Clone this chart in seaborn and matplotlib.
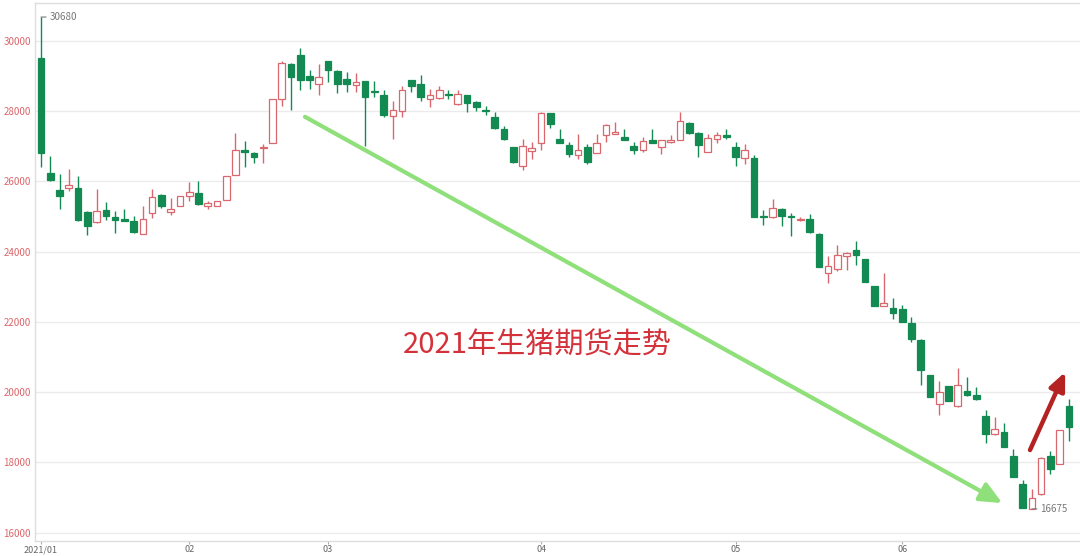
import pandas as pd
import matplotlib
matplotlib.use("Agg")
import matplotlib.pyplot as plt
import seaborn as sns

# Daily OHLC of the live hog futures contract, Jan 8 - Jun 28 2021
opens = [29510, 26240, 25760, 25810, 25810, 25140, 24830, 25190, 24980, 24930,
         24860, 24510, 25100, 25620, 25140, 25310, 25570, 25670, 25290, 25310,
         25480, 26190, 26900, 26820, 26950, 27090, 28350, 29350, 29590, 28990,
         28780, 29430, 29140, 28920, 28740, 28860, 28560, 28470, 27860, 28000,
         28880, 28760, 28350, 28370, 28480, 28190, 28450, 28270, 28030, 27830,
         27500, 26970, 26450, 26860, 27090, 27940, 27220, 27050, 26740, 26980,
         26810, 27310, 27360, 27270, 27000, 26900, 27170, 26980, 27120, 27190,
         27670, 27390, 26840, 27220, 27310, 26980, 26670, 26670, 25000, 24980,
         25200, 25000, 24900, 24920, 24510, 23400, 23510, 23870, 24060, 23780,
         23020, 22460, 22400, 22360, 21980, 21490, 20490, 19660, 20170, 19600,
         20030, 19930, 19310, 18800, 18870, 18170, 17390, 16680, 17090, 18170,
         17960, 19600]
highs = [30680, 26730, 26220, 26350, 26160, 25160, 25780, 25400, 25170, 25210,
         25020, 25300, 25780, 25640, 25520, 25590, 25970, 26000, 25430, 25450,
         26150, 27370, 27160, 26830, 27070, 28360, 29430, 29360, 29810, 29180,
         29330, 29440, 29180, 29110, 29090, 28870, 28860, 28590, 28290, 28730,
         28890, 29020, 28640, 28730, 28610, 28610, 28460, 28280, 28160, 27970,
         27590, 26980, 27210, 27110, 27970, 27950, 27500, 27120, 27340, 27060,
         27340, 27630, 27700, 27500, 27120, 27270, 27480, 27180, 27310, 27980,
         27700, 27400, 27340, 27410, 27480, 27120, 27060, 26750, 25180, 25510,
         25230, 25090, 25000, 25070, 24520, 23870, 24200, 23980, 24290, 23790,
         23030, 23400, 22690, 22490, 22150, 21500, 20500, 20320, 20180, 20680,
         20440, 20150, 19490, 19280, 19120, 18390, 17490, 17250, 18150, 18320,
         18920, 19790]
lows = [26420, 26000, 25210, 25740, 24880, 24480, 24820, 24900, 24520, 24860,
        24540, 24500, 24950, 25240, 25050, 25290, 25430, 25330, 25210, 25290,
        25470, 26180, 26400, 26520, 26510, 27080, 28160, 28040, 28610, 28640,
        28450, 28830, 28510, 28540, 28540, 27020, 28400, 27830, 27210, 27830,
        28540, 28290, 28130, 28360, 28350, 28180, 27970, 28000, 27880, 27500,
        27180, 26530, 26320, 26640, 26880, 27520, 27090, 26700, 26650, 26490,
        26800, 27120, 27350, 27170, 26790, 26840, 27080, 26770, 27100, 27170,
        27360, 26700, 26830, 27080, 27220, 26430, 26500, 24990, 24760, 24970,
        24730, 24450, 24880, 24530, 23560, 23120, 23450, 23470, 23630, 23130,
        22450, 22440, 22080, 22000, 21440, 20200, 19860, 19340, 19740, 19590,
        19900, 19780, 18550, 18790, 18430, 17570, 16700, 16675, 17080, 17680,
        17950, 18610]
closes = [26800, 26030, 25570, 25900, 24890, 24730, 25170, 25020, 24900, 24880,
          24550, 24930, 25550, 25290, 25210, 25570, 25690, 25350, 25380, 25430,
          26140, 26900, 26830, 26690, 26980, 28350, 29380, 28970, 28880, 28900,
          28970, 29180, 28760, 28780, 28830, 28400, 28540, 27880, 28040, 28610,
          28730, 28400, 28450, 28610, 28470, 28500, 28230, 28130, 28010, 27510,
          27210, 26540, 27020, 26950, 27940, 27640, 27100, 26790, 26900, 26550,
          27080, 27620, 27410, 27190, 26900, 27150, 27100, 27170, 27190, 27720,
          27380, 27030, 27240, 27330, 27270, 26700, 26890, 25000, 24990, 25230,
          25010, 24980, 24930, 24570, 23570, 23590, 23890, 23960, 23890, 23140,
          22460, 22530, 22260, 22010, 21500, 20630, 19870, 20010, 19750, 20200,
          19910, 19790, 18800, 18940, 18440, 17580, 16710, 16990, 18130, 17820,
          18910, 19010]

holidays = ["2021-02-11", "2021-02-12", "2021-02-15", "2021-02-16", "2021-02-17",
            "2021-04-05", "2021-05-03", "2021-05-04", "2021-05-05", "2021-06-14"]
dates = pd.bdate_range("2021-01-08", "2021-06-28", freq="C", holidays=holidays)

y_ticks = [16000, 18000, 20000, 22000, 24000, 26000, 28000, 30000]
title_text = "2021年生猪期货走势"

df = pd.DataFrame({"date": dates, "open": opens, "high": highs,
                   "low": lows, "close": closes})
df["x"] = range(len(df))
df["up"] = df["close"] >= df["open"]

GREEN = "#138a52"
RED = "#d9686e"

sns.set_theme(style="white")
plt.rcParams["font.family"] = ["Noto Sans CJK SC", "DejaVu Sans"]

fig = plt.figure(figsize=(10.8, 5.56), dpi=100)
ax = fig.add_axes([35 / 1080, 15 / 556, 1 - 35 / 1080, 538 / 556])

# wicks
for up, sub in df.groupby("up"):
    ax.vlines(sub["x"], sub["low"], sub["high"], color=RED if up else GREEN,
              lw=1, zorder=2)

# bodies: red hollow for up days, green filled for down days
body_bottom = df[["open", "close"]].min(axis=1)
body_height = (df["close"] - df["open"]).abs().clip(lower=25)
ax.bar(df["x"], body_height, bottom=body_bottom, width=0.72,
       color=["white" if u else GREEN for u in df["up"]],
       edgecolor=[RED if u else GREEN for u in df["up"]],
       linewidth=0.9, zorder=3)

# max / min markers
i_max = df["high"].idxmax()
i_min = df["low"].idxmin()
for i, val in [(i_max, df.loc[i_max, "high"]), (i_min, df.loc[i_min, "low"])]:
    ax.annotate(f"{val}", xy=(df.loc[i, "x"], val), xytext=(6, 0),
                textcoords="offset points", va="center", ha="left",
                fontsize=7, color="#777777",
                arrowprops=dict(arrowstyle="-", color="#777777", lw=0.8,
                                shrinkA=0, shrinkB=0))

# trend arrows and caption
ax.annotate("", xy=(103.8, 16840), xytext=(28.5, 27840),
            arrowprops=dict(arrowstyle="-|>,head_length=1.1,head_width=0.5",
                            color="#8fe07a", lw=3, shrinkA=0, shrinkB=0),
            zorder=4)
ax.annotate("", xy=(110.6, 20570), xytext=(106.8, 18350),
            arrowprops=dict(arrowstyle="-|>,head_length=0.9,head_width=0.4",
                            color="#b52222", lw=3.2, shrinkA=0, shrinkB=0),
            zorder=4)
ax.text(53.6, 21320, title_text, fontsize=21, color="#d4323a",
        ha="center", va="center", zorder=5)

# axes styling
ax.set_xlim(-0.65, len(df) + 0.2)
ax.set_ylim(15760, 31080)
ax.set_yticks(y_ticks)
ax.set_yticklabels([str(v) for v in y_ticks], fontsize=7, color="#d9666b")
ax.yaxis.grid(True, color="#ebebeb", lw=1)
ax.set_axisbelow(True)

month_start = df.index[df["date"].dt.month != df["date"].dt.month.shift()]
ax.set_xticks(month_start)
ax.set_xticklabels(["2021/01"] + [d.strftime("%m") for d in df.loc[month_start[1:], "date"]],
                   fontsize=6.5, color="#666666")
ax.tick_params(axis="x", length=2.5, width=0.8, color="#aaaaaa", pad=0.5, bottom=True)
ax.tick_params(axis="y", length=0, pad=3)

for side in ["left", "bottom", "top"]:
    ax.spines[side].set_color("#dddddd")
    ax.spines[side].set_linewidth(1)
ax.spines["right"].set_visible(False)

fig.savefig("out.png", dpi=100)
